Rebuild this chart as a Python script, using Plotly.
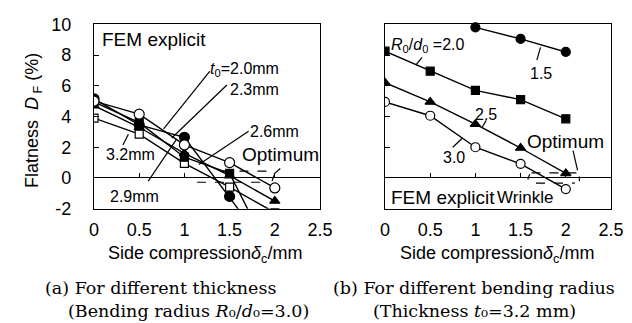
import plotly.graph_objects as go

# ---------------- data ----------------
side_compression = [0, 0.5, 1, 1.5, 2]
x_ticks = [0, 0.5, 1, 1.5, 2, 2.5]
x_tick_text = ["0", "0.5", "1", "1.5", "2", "2.5"]
y_ticks = [-2, 0, 2, 4, 6, 8, 10]
y_tick_text = ["-2", "0", "2", "4", "6", "8", "10"]
zero_ticks = [0.5, 1, 1.5, 2]

# (a) different thickness t0 (R0/d0 = 3.0)
t_2_0 = [5.0, 4.15, 2.15, 1.0, -0.65]    # open circle
t_2_3 = [5.15, 3.45, 2.65, -1.2, -5.2]   # filled circle
t_2_6 = [4.7, 3.3, 1.6, 0.15, -1.5]      # filled triangle
t_2_9 = [4.95, 3.6, 1.35, 0.3, -5.5]     # filled square
t_3_2 = [3.9, 2.85, 0.95, -0.6, -2.25]   # open square

# (b) different bending radius R0/d0 (t0 = 3.2 mm)
r_1_5 = [None, None, 9.8, 9.05, 8.2]     # filled circle
r_2_0 = [8.25, 6.95, 5.7, 5.1, 3.85]     # filled square
r_2_5 = [6.2, 4.95, 3.5, 1.95, 0.3]      # filled triangle
r_3_0 = [4.95, 4.05, 2.0, 0.92, -0.72]   # open circle

BLACK = "black"
SANS = "Liberation Sans, Arial, sans-serif"
SERIF = "DejaVu Serif, serif"

fig = go.Figure()

def add_series(x, y, symbol, xa, ya, size=9, open_=False, clip=True):
    fig.add_trace(go.Scatter(
        x=x, y=y, mode="lines+markers", xaxis=xa, yaxis=ya,
        line=dict(color=BLACK, width=1.4),
        marker=dict(symbol=symbol, size=size,
                    color="white" if open_ else BLACK,
                    line=dict(color=BLACK, width=1.2)),
        cliponaxis=clip, showlegend=False, connectgaps=False))

# left panel
add_series(side_compression, t_3_2, "square", "x", "y", size=8, open_=True)
add_series(side_compression, t_2_9, "square", "x", "y", size=8)
add_series(side_compression, t_2_6, "triangle-up", "x", "y", size=9)
add_series(side_compression, t_2_3, "circle", "x", "y", size=10)
add_series(side_compression, t_2_0, "circle", "x", "y", size=10, open_=True)
# right panel
add_series(side_compression, r_1_5, "circle", "x2", "y2", size=9, clip=False)
add_series(side_compression, r_2_0, "square", "x2", "y2", size=8)
add_series(side_compression, r_2_5, "triangle-up", "x2", "y2", size=9)
add_series(side_compression, r_3_0, "circle", "x2", "y2", size=9, open_=True)

# dummy traces so the zero-line tick axes get drawn
fig.add_trace(go.Scatter(x=[None], y=[None], xaxis="x3", yaxis="y", showlegend=False))
fig.add_trace(go.Scatter(x=[None], y=[None], xaxis="x4", yaxis="y2", showlegend=False))

W, H = 632, 323
xd1 = [86 / W, 312 / W]
xd2 = [377 / W, 603 / W]
yd = [1 - 200.7 / H, 1 - 16.3 / H]
zero_pos = yd[0] + (2 / 12) * (yd[1] - yd[0])

def xaxis(domain, anchor):
    return dict(domain=domain, anchor=anchor, range=[0, 2.5], tickmode="array",
                tickvals=x_ticks, ticktext=x_tick_text, ticks="",
                ticklabelstandoff=5, automargin=False,
                tickfont=dict(family=SANS, size=18, color=BLACK),
                showline=True, mirror=True, linecolor=BLACK, linewidth=1.3,
                showgrid=False, zeroline=False, fixedrange=True)

def yaxis(anchor, labels):
    return dict(domain=yd, anchor=anchor, range=[-2, 10], tickmode="array",
                tickvals=y_ticks, ticktext=y_tick_text, ticks="inside", ticklen=5,
                tickcolor=BLACK, tickwidth=1.2, showticklabels=labels,
                ticklabelstandoff=18, automargin=False,
                tickfont=dict(family=SANS, size=18, color=BLACK),
                showline=True, mirror=True, linecolor=BLACK, linewidth=1.3,
                showgrid=False, zeroline=True, zerolinecolor=BLACK,
                zerolinewidth=1.4, fixedrange=True)

def zero_axis(domain, over):
    return dict(domain=domain, overlaying=over, anchor="free", position=zero_pos,
                range=[0, 2.5], tickmode="array", tickvals=zero_ticks,
                ticks="inside", ticklen=5, tickcolor=BLACK, tickwidth=1.2,
                showticklabels=False, showline=False, showgrid=False,
                zeroline=False, fixedrange=True, automargin=False)

fig.update_layout(
    template="none",
    width=W, height=H, margin=dict(l=0, r=0, t=0, b=0, pad=0, autoexpand=False),
    paper_bgcolor="white", plot_bgcolor="white",
    xaxis=xaxis(xd1, "y"), yaxis=yaxis("x", True),
    xaxis2=xaxis(xd2, "y2"), yaxis2=yaxis("x2", False),
    xaxis3=zero_axis(xd1, "x"), xaxis4=zero_axis(xd2, "x2"),
)

shapes = []
def seg(xr, yr, x0, y0, x1, y1, dash="solid", w=1.2):
    shapes.append(dict(type="line", xref=xr, yref=yr, x0=x0, y0=y0, x1=x1, y1=y1,
                       line=dict(color=BLACK, width=w, dash=dash)))

# left pointers
seg("x", "y", 1.28, 6.94, 0.77, 3.2)
seg("x", "y", 1.47, 6.05, 0.86, 2.6)
seg("x", "y", 1.71, 3.04, 1.16, 0.87)
seg("x", "y", 0.32, 2.15, 0.38, 2.85)
seg("x", "y", 0.6, -0.21, 0.91, 2.49)
# left optimum
seg("x", "y", 1.41, 0.44, 2.0, 0.44, dash="dash")
seg("x", "y", 1.14, -0.28, 1.9, -0.28, dash="dash")
seg("x", "y", 2.06, 0.62, 2.0, 0.3)
seg("x", "y", 2.0, 0.3, 1.97, -0.2)
# right pointers
seg("x2", "y2", 1.72, 8.5, 1.68, 7.67)
seg("x2", "y2", 1.12, 3.75, 1.07, 3.25)
seg("x2", "y2", 0.75, 2.0, 0.86, 2.62)
seg("x2", "y2", 0.34, 7.35, 0.41, 7.85)
seg("x2", "y2", 2.08, 1.78, 2.13, 0.5)
# right optimum
seg("x2", "y2", 1.62, 0.33, 2.15, 0.33, dash="dash")
seg("x2", "y2", 1.67, -0.33, 2.1, -0.33, dash="dash")
seg("x2", "y2", 2.15, 0.1, 2.15, -0.22)
seg("x2", "y2", 1.6, 0.25, 1.58, -0.1)
fig.update_layout(shapes=shapes)

ann = []
def text(xr, yr, x, y, t, size=16, xanchor="left", family=SANS, **kw):
    ann.append(dict(xref=xr, yref=yr, x=x, y=y, text=t, showarrow=False,
                    xanchor=xanchor, yanchor="middle",
                    font=dict(family=family, size=size, color=BLACK), **kw))

# left labels
text("x", "y", 0.07, 9.0, "FEM explicit", size=19)
text("x", "y", 1.26, 7.05, "<i>t</i><sub>0</sub>=2.0mm")
text("x", "y", 1.48, 5.75, "2.3mm")
text("x", "y", 1.7, 3.04, "2.6mm")
text("x", "y", 0.11, 1.5, "3.2mm")
text("x", "y", 0.15, -1.2, "2.9mm")
text("x", "y", 2.06, 1.52, "Optimum", size=19, xanchor="center")
# right labels
text("x2", "y2", 0.04, 8.6, "<i>R</i><sub>0</sub>/<i>d</i><sub>0</sub> =2.0")
text("x2", "y2", 1.73, 6.8, "1.5", xanchor="center")
text("x2", "y2", 1.12, 4.15, "2.5", xanchor="center")
text("x2", "y2", 0.76, 1.35, "3.0", xanchor="center")
text("x2", "y2", 2.0, 2.4, "Optimum", size=19, xanchor="center")
text("x2", "y2", 0.04, -1.25, "FEM explicit", size=19)
text("x2", "y2", 1.22, -1.3, "Wrinkle", size=17)

# axis titles
text("paper", "paper", 25 / W, 1 - 113 / H, "Flatness  <i>D</i><sub> F</sub> (%)",
     size=18, xanchor="center", textangle=-90)
text("paper", "paper", 197 / W, 1 - 246 / H,
     "Side compression<i>δ</i><sub>c</sub>/mm", size=18, xanchor="center")
text("paper", "paper", 489 / W, 1 - 246 / H,
     "Side compression<i>δ</i><sub>c</sub>/mm", size=18, xanchor="center")

# captions
text("paper", "paper", 152 / W, 1 - 280 / H, "(a) For different thickness",
     size=17.5, xanchor="center", family=SERIF)
text("paper", "paper", 180 / W, 1 - 303 / H,
     "(Bending radius <i>R</i>₀/<i>d</i>₀=3.0)",
     size=17.5, xanchor="center", family=SERIF)
text("paper", "paper", 466 / W, 1 - 280 / H, "(b) For different bending radius",
     size=17.5, xanchor="center", family=SERIF)
text("paper", "paper", 466 / W, 1 - 303 / H,
     "(Thickness <i>t</i>₀=3.2 mm)",
     size=17.5, xanchor="center", family=SERIF)

fig.update_layout(annotations=ann)
fig.write_html("out.html")
